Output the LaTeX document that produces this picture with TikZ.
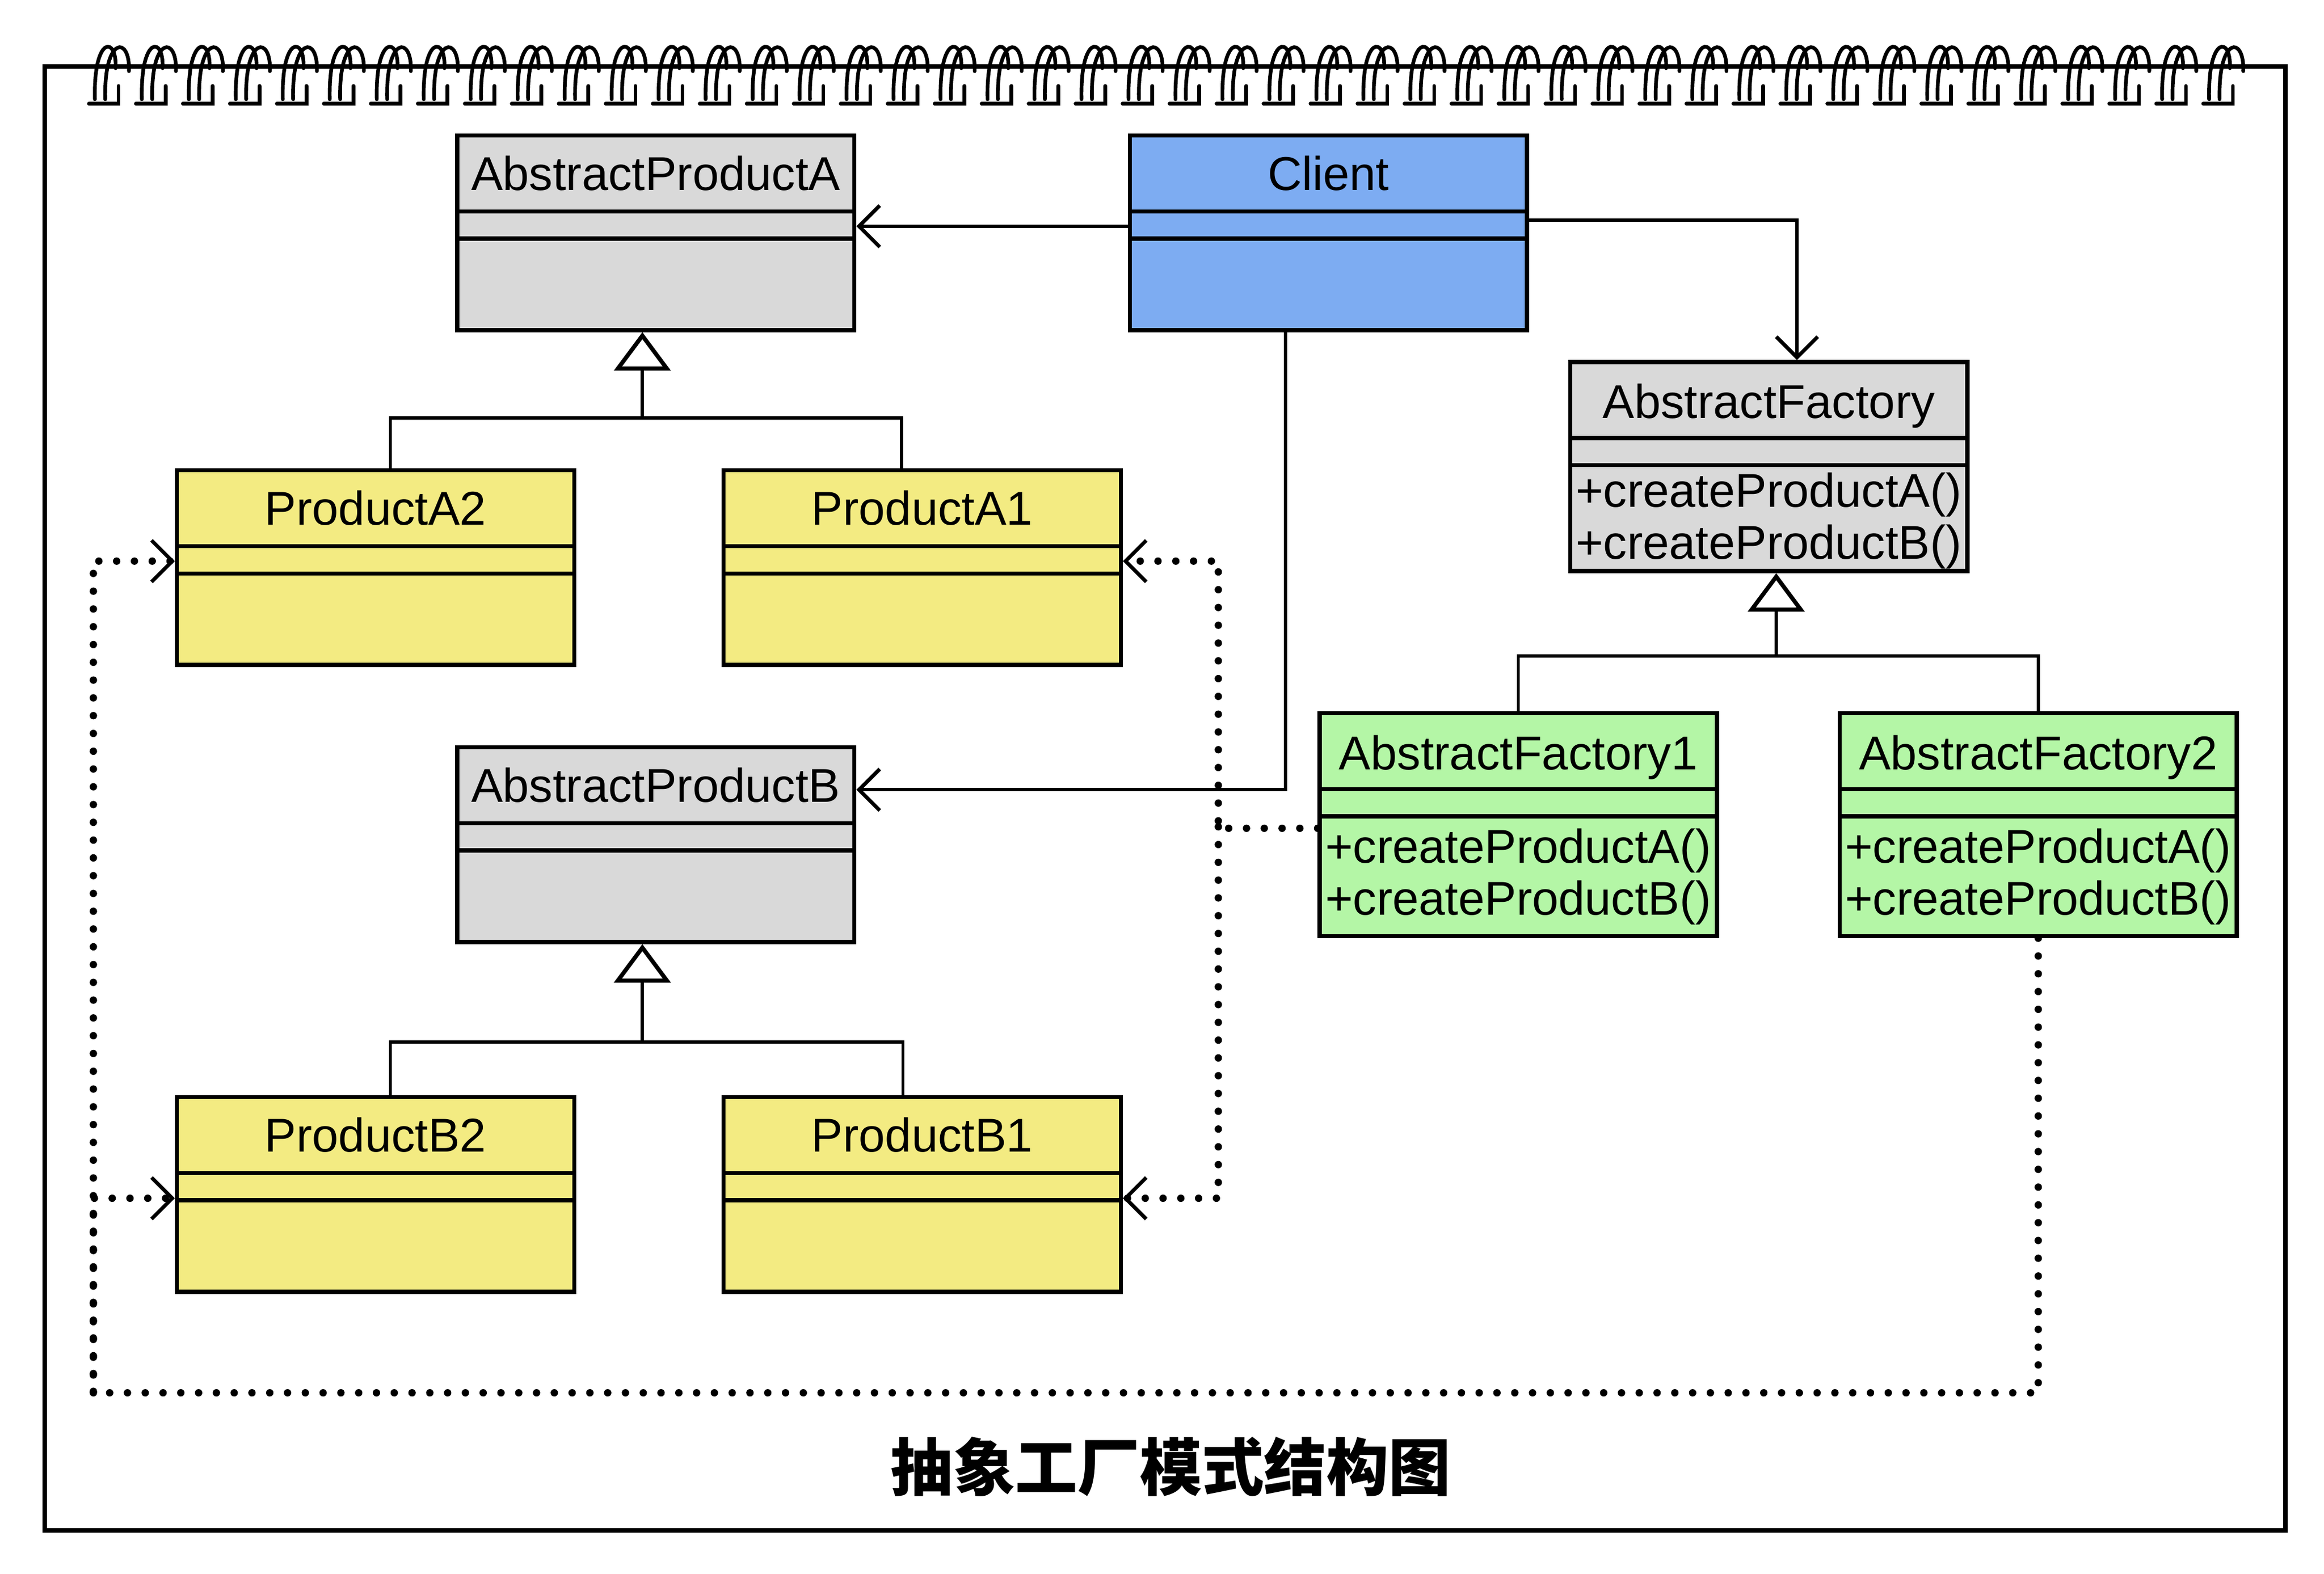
\documentclass[tikz,border=0pt]{standalone}
\usepackage{fontspec}
\setmainfont{Liberation Sans}
\newfontfamily\cjkfont{Noto Sans CJK SC}
\usetikzlibrary{arrows.meta,positioning,shapes.multipart}

\definecolor{boxgray}{RGB}{217,217,217}
\definecolor{clientblue}{RGB}{125,172,242}
\definecolor{prodyellow}{RGB}{243,235,130}
\definecolor{factgreen}{RGB}{180,246,166}

% title part and the two lower parts of a class box
\newcommand{\clstitle}[1]{\rule[-13pt]{0pt}{48.5pt}#1}
\newcommand{\noparts}{\nodepart{two}\rule{0pt}{15.5pt}\nodepart{three}\rule{0pt}{59pt}}
\newcommand{\methods}[2]{\nodepart{two}\rule{0pt}{15.5pt}%
  \nodepart{three}\rule{0pt}{#1}+createProductA()\\+createProductB()\rule[-#2]{0pt}{#2}}

\tikzset{
    %Define standard arrow tip
    >={Straight Barb[length=14pt,width=28pt,line width=2.5pt]},
    cls/.style={
      rectangle split,
      rectangle split parts=3,
      draw=black, line width=2.8pt,
      inner sep=0pt,
      text width=268pt,
      align=center,
      anchor=north west,
      font=\fontsize{32}{35}\selectfont},
    assoc/.style={->, line width=2.2pt},
    tree/.style={line width=2.2pt},
    isa/.style={
      -{Triangle[open,length=26pt,width=38pt,line width=2.8pt]},
      line width=2.2pt},
    dep/.style={->, line width=5pt,
      dash pattern=on 0pt off 12pt, line cap=round},
    coil/.style={line width=2.5pt, line cap=round},
}

\begin{document}
\begin{tikzpicture}[x=1pt,y=-1pt]
    \fill[white] (0,0) rectangle (1568,1062);
    \useasboundingbox (0,0) rectangle (1568,1062);

    % notebook page
    \draw[line width=3pt] (30,45) rectangle (1542,1033);
    \foreach \i in {0,...,45}{
      \pgfmathsetmacro{\cx}{64+31.7*\i}
      \draw[coil] (\cx,67) .. controls (\cx-1,24) and (\cx+15,24) .. (\cx+14,46);
      \draw[coil] (\cx+7,67) .. controls (\cx+6,24) and (\cx+24,24) .. (\cx+23,48);
      \draw[coil] (\cx-4,70) -- (\cx+16,70) -- (\cx+16,58);
    }

    % classes
    \node (AbsProdA) [cls, fill=boxgray] at (307,90)
          {\clstitle{AbstractProductA}\noparts};
    \node (Client) [cls, fill=clientblue] [right=183pt of AbsProdA]
          {\clstitle{Client}\noparts};
    \node (AbsFactory) [cls, fill=boxgray] at (1058,243)
          {\rule[-12pt]{0pt}{48.5pt}AbstractFactory\methods{27pt}{6pt}};
    \node (ProdA2) [cls, fill=prodyellow] at (118,316)
          {\clstitle{ProductA2}\noparts};
    \node (ProdA1) [cls, fill=prodyellow] [right=98pt of ProdA2]
          {\clstitle{ProductA1}\noparts};
    \node (AbsProdB) [cls, fill=boxgray] at (307,503)
          {\clstitle{AbstractProductB}\noparts};
    \node (ProdB2) [cls, fill=prodyellow] at (118,739)
          {\clstitle{ProductB2}\noparts};
    \node (ProdB1) [cls, fill=prodyellow] [right=98pt of ProdB2]
          {\clstitle{ProductB1}\noparts};
    \node (Fact1) [cls, fill=factgreen] at (889,480)
          {\rule[-12pt]{0pt}{48.5pt}AbstractFactory1\methods{30pt}{13pt}};
    \node (Fact2) [cls, fill=factgreen] [right=80pt of Fact1]
          {\rule[-12pt]{0pt}{48.5pt}AbstractFactory2\methods{30pt}{13pt}};

    % client associations
    \draw[assoc] ([yshift=-10pt]Client.text split west)
          -- ([yshift=-10pt]AbsProdA.text split east);
    \draw[assoc] ([yshift=-6pt]Client.text split east)
          -| ([xshift=19pt]AbsFactory.north);
    \draw[assoc] ([xshift=-29pt]Client.south)
          |- ([yshift=-30pt]AbsProdB.north east);

    % inheritance
    \draw[tree] ([xshift=10pt]ProdA2.north)
          |- ([xshift=-9pt,yshift=-58pt]AbsProdA.south)
          -| ([xshift=-14pt]ProdA1.north);
    \draw[isa] ([xshift=-9pt,yshift=-58pt]AbsProdA.south)
          -- ([xshift=-9pt]AbsProdA.south);
    \draw[tree] ([xshift=10pt]ProdB2.north)
          |- ([xshift=-9pt,yshift=-66pt]AbsProdB.south)
          -| ([xshift=-13pt]ProdB1.north);
    \draw[isa] ([xshift=-9pt,yshift=-66pt]AbsProdB.south)
          -- ([xshift=-9pt]AbsProdB.south);
    \draw[tree] (Fact1.north)
          |- ([xshift=5pt,yshift=-56pt]AbsFactory.south)
          -| (Fact2.north);
    \draw[isa] ([xshift=5pt,yshift=-56pt]AbsFactory.south)
          -- ([xshift=5pt]AbsFactory.south);

    % factories create products
    \coordinate (dotA) at (822,558);
    \coordinate (dotB) at (63,940);
    \draw[dep] ([yshift=-8pt]Fact1.two split west) -| (dotA)
          |- ([yshift=-10pt]ProdA1.text split east);
    \draw[dep] (dotA) |- ([yshift=-17pt]ProdB1.text split east);
    \draw[dep] (Fact2.south) |- (dotB)
          |- ([yshift=-10pt]ProdA2.text split west);
    \draw[dep] (dotB) |- ([yshift=-17pt]ProdB2.text split west);

    \node (caption) at (790,990)
          {\cjkfont\bfseries\fontsize{42}{42}\selectfont 抽象工厂模式结构图};
\end{tikzpicture}
\end{document}
